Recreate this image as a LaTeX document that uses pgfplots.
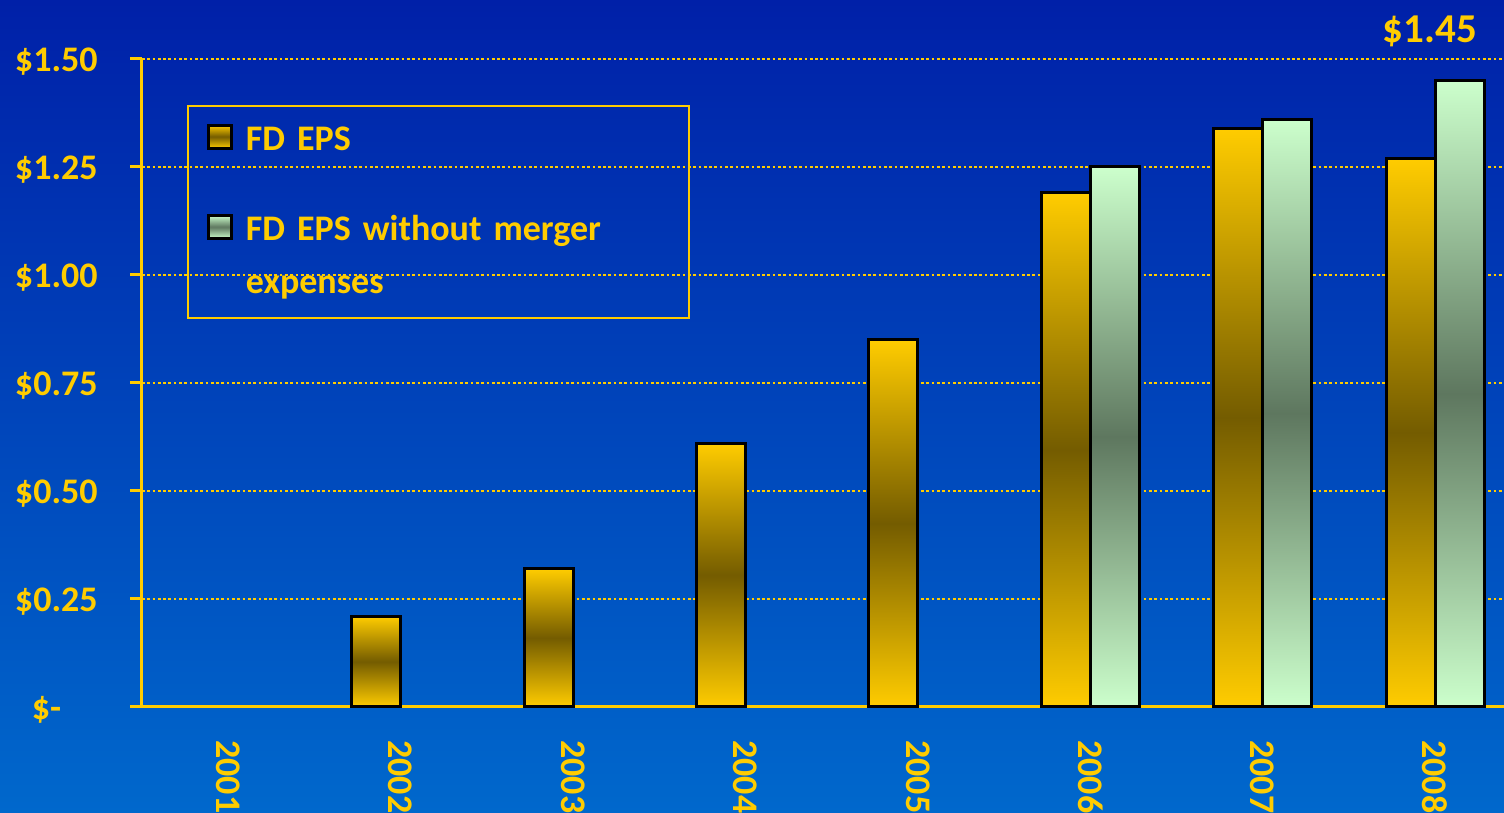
\documentclass[border=0pt]{standalone}
\usepackage{fontspec}
\setmainfont{Carlito}
\usepackage{pgfplots}
\pgfplotsset{compat=1.18}
\definecolor{gold}{HTML}{FFCC00}
\definecolor{darkgold}{HTML}{745C00}
\definecolor{lightgreen}{HTML}{CCFFCC}
\definecolor{darkgreen}{HTML}{5E775F}
\definecolor{bgtop}{HTML}{0020A8}
\definecolor{bgbot}{HTML}{0068CC}
\pgfplotsset{
  goldbar/.style={bar shift=-0.142, draw=black, line width=1.5pt,
    top color=gold, bottom color=gold, middle color=darkgold,
    legend image code/.code={\shade[draw=black, line width=1.5pt, top color=gold, bottom color=gold, middle color=darkgold] (0.75pt,1.25pt) rectangle (12.25pt,12.75pt);}},
  greenbar/.style={bar shift=0.142, draw=black, line width=1.5pt,
    top color=lightgreen, bottom color=lightgreen, middle color=darkgreen,
    legend image code/.code={\shade[draw=black, line width=1.5pt, top color=lightgreen, bottom color=lightgreen, middle color=darkgreen] (0.75pt,1.25pt) rectangle (12.25pt,12.75pt);}},
}
\begin{document}
\begin{tikzpicture}
\path[use as bounding box] (0,0) rectangle (752pt,406.5pt);
\clip (0,0) rectangle (752pt,406.5pt);
\shade[top color=bgtop, bottom color=bgbot] (0,0) rectangle (752pt,406.5pt);
\begin{axis}[
  at={(71pt,53pt)}, anchor=south west,
  scale only axis, width=681pt, height=324pt,
  xmin=-0.5, xmax=7.40, ymin=0, ymax=1.5,
  clip=false,
  axis x line*=bottom, axis y line*=left,
  axis line style={draw=gold, line width=1.5pt, -},
  tick align=outside,
  tick style={draw=gold, line width=1.5pt},
  major tick length=6pt,
  minor tick length=4.5pt,
  ytick={0,0.25,0.5,0.75,1,1.25,1.5},
  yticklabels={\$-\hphantom{00},\$0.25,\$0.50,\$0.75,\$1.00,\$1.25,\$1.50},
  yticklabel style={font=\bfseries\fontsize{18}{21}\selectfont, text=gold, anchor=east, inner sep=0pt, yshift=-1.2pt},
  yticklabel shift=16pt,
  xtick=\empty,
  minor xtick={-0.5,0.5,1.5,2.5,3.5,4.5,5.5,6.5},
  extra x ticks={0,1,2,3,4,5,6,7},
  extra x tick labels={2001,2002,2003,2004,2005,2006,2007,2008},
  extra x tick style={major tick length=0pt,
    xticklabel style={font=\bfseries\fontsize{18}{21}\selectfont, text=gold, rotate=-90, anchor=west, inner sep=0pt}},
  xticklabel shift=16.5pt,
  ymajorgrids,
  grid style={draw=gold, line width=1.35pt, dash pattern=on 1.35pt off 1.3pt},
  ybar, bar width=0.284,
  legend style={
    at={(0.033,0.9295)}, anchor=north west,
    draw=gold, line width=1pt, fill=none,
    inner xsep=9.5pt, inner ysep=9pt,
    font=\bfseries\fontsize{18}{26.5}\selectfont, text=gold,
    cells={anchor=base west},
    nodes={inner sep=0pt, text depth=, text width=212pt, align=left},
    row sep=31.5pt,
    /tikz/every odd column/.append style={column sep=6.5pt},
  },
]
% FD EPS (one plot per bar so that each bar gets its own gradient)
\addplot[goldbar] coordinates {(1,0.21)};
\addlegendentry{FD EPS}
\addplot[goldbar, forget plot] coordinates {(2,0.32)};
\addplot[goldbar, forget plot] coordinates {(3,0.61)};
\addplot[goldbar, forget plot] coordinates {(4,0.85)};
\addplot[goldbar, forget plot] coordinates {(5,1.19)};
\addplot[goldbar, forget plot] coordinates {(6,1.34)};
\addplot[goldbar, forget plot] coordinates {(7,1.27)};
% FD EPS without merger expenses
\addplot[greenbar] coordinates {(5,1.25)};
\addlegendentry{FD EPS without merger\\expenses}
\addplot[greenbar, forget plot] coordinates {(6,1.36)};
\addplot[greenbar, forget plot] coordinates {(7,1.45)};
\node[anchor=base, font=\bfseries\fontsize{20.5}{24}\selectfont, text=gold] at (axis cs:6.97,1.538) {\$1.45};
\end{axis}
\end{tikzpicture}
\end{document}
